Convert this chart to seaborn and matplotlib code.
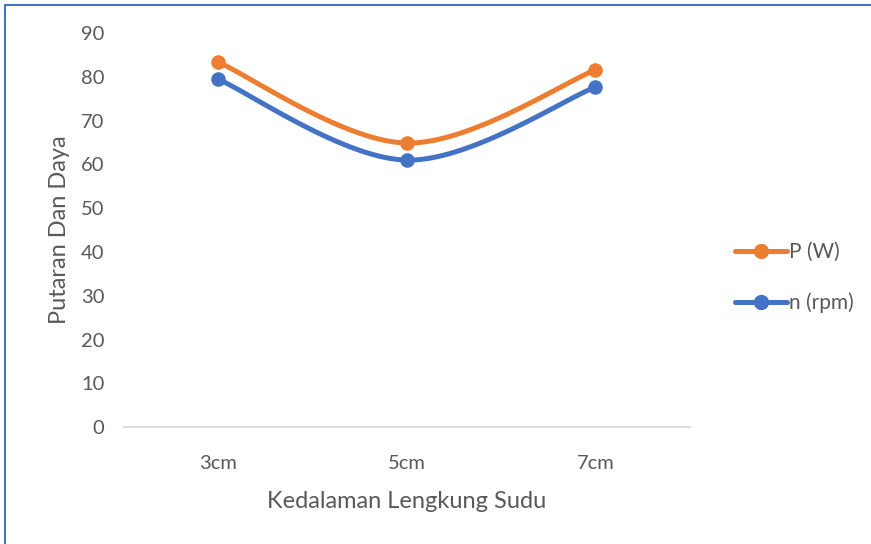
import numpy as np
import pandas as pd
import matplotlib
matplotlib.use('Agg')
import matplotlib.pyplot as plt
import seaborn as sns
from matplotlib.lines import Line2D

# data
kedalaman = ['3cm', '5cm', '7cm']
daya_w = [83.4, 64.9, 81.6]
putaran_rpm = [79.5, 61.0, 77.7]

ORANGE = '#ED7D31'
BLUE = '#4472C4'
GREY = '#595959'

sns.set_theme(style='white')
plt.rcParams['font.family'] = ['Lato', 'DejaVu Sans']


def smooth(xs, ys, n=40):
    """Excel-like smoothing: cubic bezier with Catmull-Rom control points"""
    pts = np.column_stack([xs, ys]).astype(float)
    pts = np.vstack([pts[0], pts, pts[-1]])
    out = []
    for i in range(1, len(pts) - 2):
        p0, p1, p2, p3 = pts[i - 1], pts[i], pts[i + 1], pts[i + 2]
        c1 = p1 + (p2 - p0) / 6
        c2 = p2 - (p3 - p1) / 6
        t = np.linspace(0, 1, n)[:, None]
        seg = ((1 - t) ** 3) * p1 + 3 * ((1 - t) ** 2) * t * c1 + 3 * (1 - t) * t ** 2 * c2 + t ** 3 * p2
        out.append(seg if i == 1 else seg[1:])
    seg = np.vstack(out)
    return seg[:, 0], seg[:, 1]


fig = plt.figure(figsize=(8.71, 5.44), dpi=100)
ax = fig.add_axes([0.142, 0.215, 0.650, 0.724])

xpos = np.arange(len(kedalaman))
series = [('P (W)', daya_w, ORANGE), ('n (rpm)', putaran_rpm, BLUE)]
for name, vals, col in series:
    sx, sy = smooth(xpos, vals)
    curve = pd.DataFrame({'x': sx, 'y': sy})
    sns.lineplot(data=curve, x='x', y='y', ax=ax, color=col, linewidth=3.6,
                 sort=False, estimator=None)
    pts = pd.DataFrame({'x': xpos, 'y': vals})
    sns.scatterplot(data=pts, x='x', y='y', ax=ax, color=col, s=110,
                    edgecolor=col, linewidth=0, zorder=5)

ax.set_xlim(-0.5, len(kedalaman) - 0.5)
ax.set_ylim(0, 90)
ax.set_yticks(range(0, 91, 10))
ax.set_xticks(xpos)
ax.set_xticklabels(kedalaman)
ax.tick_params(axis='both', length=0, labelsize=14.5, colors=GREY)
ax.tick_params(axis='y', pad=14)
ax.tick_params(axis='x', pad=20)

for s in ['top', 'right', 'left']:
    ax.spines[s].set_visible(False)
ax.spines['bottom'].set_color('#D9D9D9')
ax.spines['bottom'].set_linewidth(1.3)

ax.set_xlabel('Kedalaman Lengkung Sudu', fontsize=17, color=GREY, labelpad=14)
ax.set_ylabel('Putaran Dan Daya', fontsize=17, color=GREY, labelpad=8)

handles = [Line2D([0], [0], color=c, lw=3.6, marker='o', markersize=10) for _, _, c in series]
fig.legend(handles, [n for n, _, _ in series], loc='center left',
           bbox_to_anchor=(0.822, 0.49), frameon=False, fontsize=15,
           labelcolor=GREY, handlelength=2.5, handletextpad=0.1, labelspacing=1.45)

# chart frame (top and left border)
fig.add_artist(Line2D([0.006, 1.0], [0.991, 0.991], color=BLUE, lw=1.5))
fig.add_artist(Line2D([0.006, 0.006], [0.0, 0.991], color=BLUE, lw=1.5))

fig.savefig('out.png', dpi=100)
